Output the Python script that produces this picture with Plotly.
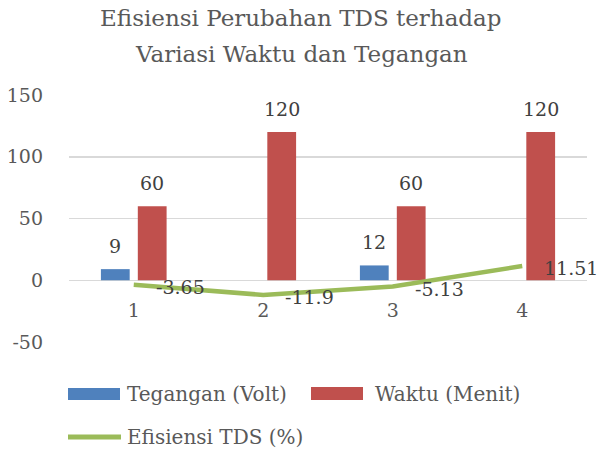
import plotly.graph_objects as go

categories = [1, 2, 3, 4]
category_labels = ["1", "2", "3", "4"]
tegangan = [9, None, 12, None]
waktu = [60, 120, 60, 120]
efisiensi = [-3.65, -11.9, -5.13, 11.51]
y_ticks = [-50, 0, 50, 100, 150]

names = ["Tegangan (Volt)", "Waktu (Menit)", "Efisiensi TDS (%)"]
colors = ["#4F81BD", "#C0504D", "#9BBB59"]
title_lines = ["Efisiensi Perubahan TDS terhadap", "Variasi Waktu dan Tegangan"]

FONT = "DejaVu Serif"
W, H = 602, 452
# plot area in screen pixels: x 69..587, y 95..342
L, R, T, B = 69, 602 - 587, 95, 452 - 342
PW, PH = W - L - R, H - T - B


def px(X):
    """screen x pixel -> paper fraction"""
    return (X - L) / PW


def py(Y):
    """screen y pixel -> paper fraction"""
    return (H - B - Y) / PH


fig = go.Figure()
fig.add_trace(go.Bar(x=categories, y=tegangan, name=names[0],
                     marker=dict(color=colors[0], line=dict(width=0))))
fig.add_trace(go.Bar(x=categories, y=waktu, name=names[1],
                     marker=dict(color=colors[1], line=dict(width=0))))
fig.add_trace(go.Scatter(x=categories, y=efisiensi, name=names[2], mode="lines",
                         line=dict(color=colors[2], width=4.5)))

annotations = []
# bar data labels
for vals, shift in ((tegangan, -18.5), (waktu, 18.5)):
    for c, v in zip(categories, vals):
        if v is None:
            continue
        annotations.append(dict(x=c, y=v, xref="x", yref="y", text=f"{v:g}",
                                showarrow=False, xshift=shift, yshift=23,
                                yanchor="middle", xanchor="center",
                                font=dict(family=FONT, size=19, color="#404040")))
# line data labels
for c, v in zip(categories, efisiensi):
    annotations.append(dict(x=c, y=v, xref="x", yref="y", text=f"{v:g}",
                            showarrow=False, xshift=20, yshift=-2,
                            xanchor="left", yanchor="middle",
                            font=dict(family=FONT, size=19, color="#404040")))

# title (two lines)
for text, Y in zip(title_lines, (18, 54)):
    annotations.append(dict(x=px(301), y=py(Y), xref="paper", yref="paper", text=text,
                            showarrow=False, xanchor="center", yanchor="middle",
                            font=dict(family=FONT, size=23, color="#595959")))

# manual legend
shapes = [
    dict(type="rect", xref="paper", yref="paper", x0=px(68), x1=px(120),
         y0=py(400), y1=py(388), fillcolor=colors[0], line=dict(width=0)),
    dict(type="rect", xref="paper", yref="paper", x0=px(311), x1=px(363),
         y0=py(400), y1=py(387), fillcolor=colors[1], line=dict(width=0)),
    dict(type="line", xref="paper", yref="paper", x0=px(68), x1=px(121),
         y0=py(437), y1=py(437), line=dict(color=colors[2], width=5)),
]
for text, X, Y in ((names[0], 125, 394), (names[1], 373, 394), (names[2], 125, 437)):
    annotations.append(dict(x=px(X), y=py(Y), xref="paper", yref="paper", text=text,
                            showarrow=False, xanchor="left", yanchor="middle",
                            font=dict(family=FONT, size=20, color="#595959")))

fig.update_layout(
    width=W, height=H,
    margin=dict(l=L, r=R, t=T, b=B, autoexpand=False),
    paper_bgcolor="white", plot_bgcolor="white",
    barmode="group", bargap=0.43, bargroupgap=0.22,
    showlegend=False, hovermode=False,
    font=dict(family=FONT, color="#595959"),
    annotations=annotations,
    shapes=shapes,
)
fig.update_xaxes(range=[0.5, 4.5], tickvals=categories, ticktext=category_labels,
                 anchor="free", position=py(279), showline=False, automargin=False,
                 ticks="", showgrid=False, zeroline=False,
                 tickfont=dict(family=FONT, size=19, color="#595959"),
                 ticklabelstandoff=18)
fig.update_yaxes(range=[-50, 150], tickvals=y_ticks, ticktext=[str(v) for v in y_ticks],
                 showgrid=True, automargin=False,
                 gridcolor="#D9D9D9", gridwidth=1.5, zeroline=True,
                 zerolinecolor="#D9D9D9", zerolinewidth=1.5, showline=False,
                 ticks="", tickfont=dict(family=FONT, size=19, color="#595959"),
                 ticklabelstandoff=25)

fig.write_html("out.html",
               config={"displayModeBar": False, "staticPlot": True},
               post_script="document.body.style.margin='0';"
                           "document.body.style.overflow='hidden';")
